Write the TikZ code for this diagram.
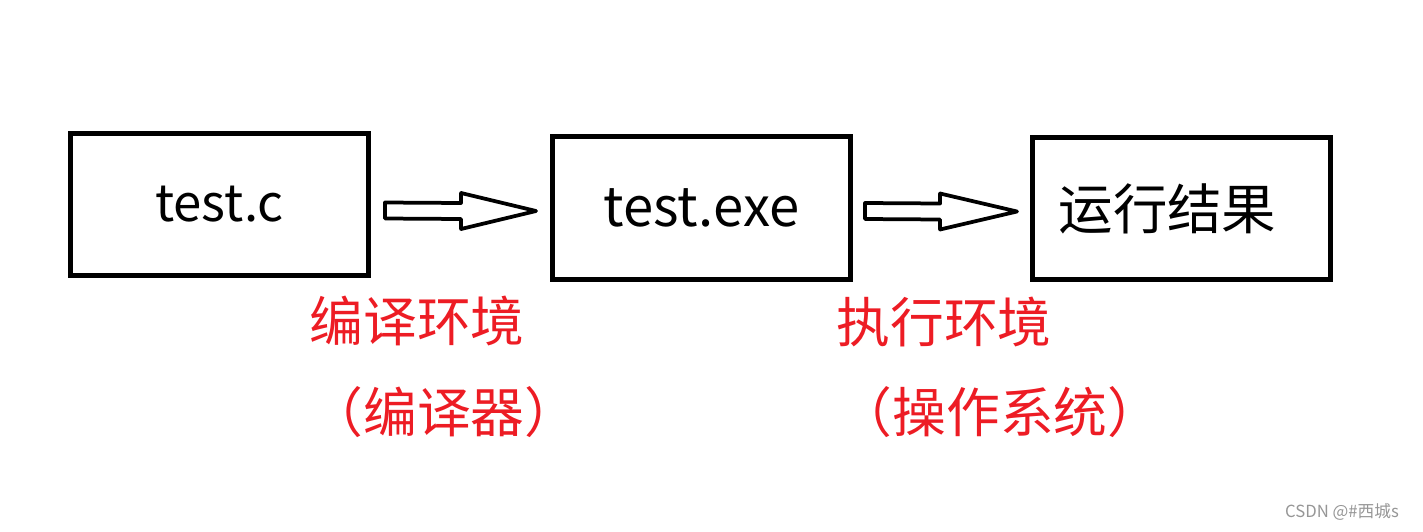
\documentclass[tikz,border=0pt]{standalone}
\usepackage{fontspec}
\setmainfont{Noto Sans CJK SC}
\usetikzlibrary{calc}
\definecolor{envred}{RGB}{237,28,36}
\definecolor{markgray}{RGB}{150,150,150}
\begin{document}
\begin{tikzpicture}[x=0.02cm,y=-0.02cm,
  box/.style={draw,line width=0.1cm,minimum width=5.96cm,minimum height=2.86cm,inner sep=0pt,font=\fontsize{31}{36}\selectfont},
  fat/.style={draw,line width=0.075cm,line join=round},
  env/.style={text=envred,inner sep=0pt,font=\fontsize{30.6}{36}\selectfont}]
\useasboundingbox (0,0) rectangle (1423,531);
% the three boxes
\node[box,font=\fontsize{29}{36}\selectfont] (src) at (219.5,204.5) {test.c};
\node[box] (exe) at (701.5,208) {test.exe};
\node[box] (res) at (1181.5,208.5) {运行结果\kern0.56cm};
% hollow arrows between the boxes
\coordinate (s1) at ($(src.east)+(14,6)$);
\coordinate (t1) at ($(exe.west)+(-14,3)$);
\draw[fat] ($(s1)+(0,-8)$) -- ($(t1)+(-75,-8)$) -- ($(t1)+(-75,-18)$) -- (t1)
  -- ($(t1)+(-75,18)$) -- ($(t1)+(-75,8)$) -- ($(s1)+(0,8)$) -- cycle;
\coordinate (s2) at ($(exe.east)+(12,3)$);
\coordinate (t2) at ($(res.west)+(-13,3)$);
\draw[fat] ($(s2)+(0,-8)$) -- ($(t2)+(-77,-8)$) -- ($(t2)+(-77,-18)$) -- (t2)
  -- ($(t2)+(-77,18)$) -- ($(t2)+(-77,8)$) -- ($(s2)+(0,8)$) -- cycle;
% red notes under the arrows
\node[env] (compenv) at (417,321) {编译环境};
\node[env] (compiler) at (444,412) {（编译器）};
\node[env] (runenv) at (944,322) {执行环境};
\node[env] (os) at (1000,412) {（操作系统）};
\node[text=markgray,inner sep=0pt,font=\fontsize{9.5}{11}\selectfont] (mark) at (1342,512) {CSDN @\#西城s};
\end{tikzpicture}
\end{document}
